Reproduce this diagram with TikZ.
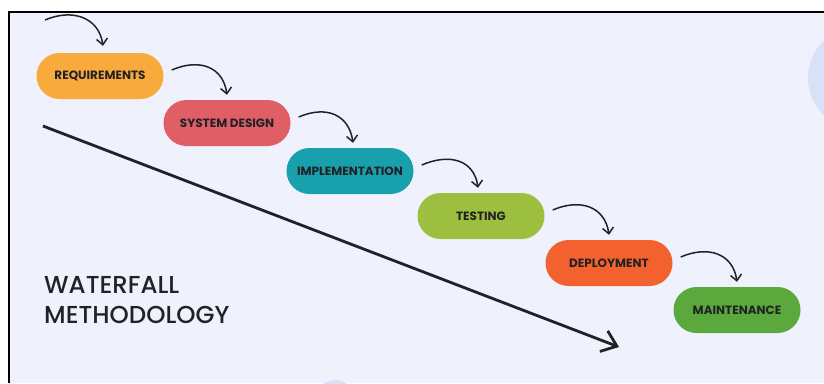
\documentclass[tikz,border=0pt]{standalone}
\usepackage{fontspec}
\setmainfont{Poppins}
\newfontfamily\titlefont{Poppins Medium}
\usetikzlibrary{arrows.meta}

\definecolor{paper}{RGB}{239,242,252}
\definecolor{blob}{RGB}{216,225,248}
\definecolor{ink}{RGB}{34,34,38}
\definecolor{reqcol}{RGB}{249,170,60}
\definecolor{syscol}{RGB}{224,94,102}
\definecolor{impcol}{RGB}{24,160,172}
\definecolor{testcol}{RGB}{157,191,63}
\definecolor{depcol}{RGB}{242,97,46}
\definecolor{maintcol}{RGB}{91,168,61}

\begin{document}
\begin{tikzpicture}[x=1pt,y=-1pt,
    phase/.style={rounded corners=23pt, minimum width=127pt, minimum height=46pt,
      inner sep=0pt, text=ink, font=\bfseries\fontsize{12}{14}\selectfont},
    hop/.style={-{Straight Barb[length=6pt,width=11pt]}, line width=1.5pt, ink}]
    \useasboundingbox (0,0) rectangle (824,383);

    % backdrop
    \fill[paper] (9,12) rectangle (824,383);
    \begin{scope}
      \clip (9,12) rectangle (824,383);
      \fill[blob] (860,78) circle (52);
      \fill[blob] (335,400) circle (20);
    \end{scope}
    \draw[line width=2.5pt] (9,383) -- (9,12) -- (824,12);

    \node[phase, fill=reqcol] (req) at (100,76) {REQUIREMENTS};
    \node[phase, fill=syscol] (sys) at (227,123) {SYSTEM DESIGN};
    \node[phase, fill=impcol] (imp) at (350,171) {IMPLEMENTATION};
    \node[phase, fill=testcol] (test) at (481,216) {TESTING};
    \node[phase, fill=depcol] (dep) at (609,263) {DEPLOYMENT};
    \node[phase, fill=maintcol] (maint) at (737,310) {MAINTENANCE};

    \node[anchor=north west, align=left, text=ink, inner sep=0pt,
      font=\titlefont\fontsize{24.5}{30}\selectfont] (title) at (44,276) {WATERFALL\\METHODOLOGY};

    \coordinate (in) at (45,20);
    \coordinate (fallstart) at (43,126);
    \coordinate (fallend) at (619,347);

    \draw [hop] (in) .. controls +(28,-12) and +(-4,-28) .. ([shift={(3,-7)}]req.north);
    \draw [hop] ([shift={(8,-6)}]req.east) .. controls +(28,-12) and +(-4,-28) .. ([shift={(0,-5)}]sys.north);
    \draw [hop] ([shift={(8,-6)}]sys.east) .. controls +(28,-12) and +(-4,-28) .. ([shift={(3,-5)}]imp.north);
    \draw [hop] ([shift={(8,-6)}]imp.east) .. controls +(28,-12) and +(-4,-28) .. ([shift={(-3,-5)}]test.north);
    \draw [hop] ([shift={(8,-6)}]test.east) .. controls +(28,-12) and +(-4,-28) .. ([shift={(0,-5)}]dep.north);
    \draw [hop] ([shift={(8,-6)}]dep.east) .. controls +(28,-12) and +(-4,-28) .. ([shift={(0,-5)}]maint.north);

    \draw [-{Straight Barb[length=14pt,width=22pt]}, line width=2.8pt, ink] (fallstart) -- (fallend);
  \end{tikzpicture}
\end{document}
